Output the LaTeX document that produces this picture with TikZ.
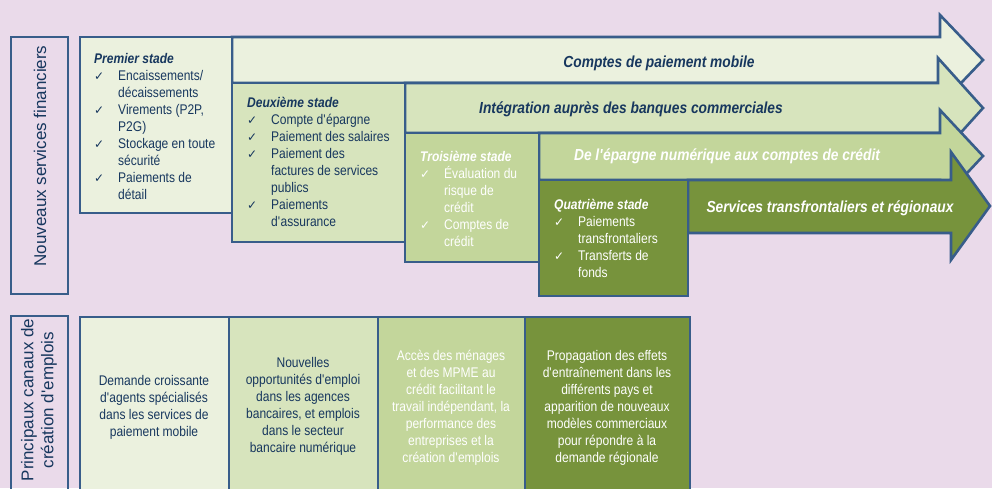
\documentclass[tikz,border=0pt]{standalone}
\usepackage{fontspec}
\setmainfont{Liberation Sans}[FakeStretch=0.86]
\newfontfamily\widefont{Liberation Sans}
\newfontfamily\symfont{DejaVu Sans}

\definecolor{bgpink}{HTML}{EADAEA}
\definecolor{edgeblue}{HTML}{385D8A}
\definecolor{navy}{HTML}{17375E}
\definecolor{gOne}{HTML}{EBF1DE}
\definecolor{gTwo}{HTML}{D7E4BD}
\definecolor{gThree}{HTML}{C3D69B}
\definecolor{gFour}{HTML}{77933C}

\newcommand{\chk}{\makebox[24pt][l]{\symfont\fontsize{12}{12}\selectfont ✓}}
\newcommand{\ind}{\hspace*{24pt}}
\newcommand{\tp}{\rule{0pt}{14pt}}
\newcommand{\ttl}[1]{\tp\textbf{\textit{#1}}}
\newcommand{\ap}{\textquotesingle}

\begin{document}
\begin{tikzpicture}
  [x=1pt,y=-1pt,
   box/.style={draw=edgeblue,line width=2.6pt},
   stagetext/.style={anchor=north west,align=left,inner sep=0pt,font=\fontsize{14}{17}\selectfont},
   arrowlabel/.style={anchor=base,inner sep=0pt,font=\fontsize{16}{19}\selectfont\bfseries\itshape},
   jobtext/.style={anchor=north,align=center,inner sep=0pt,font=\fontsize{14}{17}\selectfont},
   sidelabel/.style={rotate=90,align=center,inner sep=0pt,text=navy,font=\widefont\fontsize{17}{20}\selectfont}]
  \fill[bgpink] (0,0) rectangle (992,488);
  \clip (0,0) rectangle (992,488);

  % arrows of the four stades
\foreach \xl/\yt/\yb/\xh/\hu/\hd/\xt/\ty/\fc in
{232/37/83/940/15/105/983/60/gOne, 405/83/133/938/58/158/983/108/gTwo,
 539/133/180/940/110/202/983/156/gThree, 688/180/233/951/152/260/990/206/gFour}
    \draw[box,fill=\fc] (\xl,\yt) -- (\xh,\yt) -- (\xh,\hu) -- (\xt,\ty)
      -- (\xh,\hd) -- (\xh,\yb) -- (\xl,\yb) -- cycle;

  % stade boxes
  \draw[box,fill=gOne]   (80,37)   rectangle (232,213);
  \draw[box,fill=gTwo]   (232,83)  rectangle (405,242);
  \draw[box,fill=gThree] (405,133) rectangle (539,262);
  \draw[box,fill=gFour]  (539,180) rectangle (688,296);

  % emplois boxes
  \draw[box,fill=gOne]   (80,317)  rectangle (229,500);
  \draw[box,fill=gTwo]   (229,317) rectangle (378,500);
  \draw[box,fill=gThree] (378,317) rectangle (525,500);
  \draw[box,fill=gFour]  (525,317) rectangle (690,500);

  % side boxes
  \draw[box] (11,37)  rectangle (68,294);
  \draw[box] (11,316) rectangle (68,500);

  \node[sidelabel] (l1) at (40,156) {Nouveaux services financiers};
  \node[sidelabel] (l2) at (39,400) {Principaux canaux de\\création d\ap emplois};

  \node[stagetext,text=navy] (s1) at (94,49) {\ttl{Premier stade}\\
    \chk Encaissements/\\ \ind décaissements\\
    \chk Virements (P2P,\\ \ind P2G)\\
    \chk Stockage en toute\\ \ind sécurité\\
    \chk Paiements de\\ \ind détail};
  \node[stagetext,text=navy] (s2) at (247,93) {\ttl{Deuxième stade}\\
    \chk Compte d\ap épargne\\
    \chk Paiement des salaires\\
    \chk Paiement des\\ \ind factures de services\\ \ind publics\\
    \chk Paiements\\ \ind d\ap assurance};
  \node[stagetext,text=white] (s3) at (420,147) {\ttl{Troisième stade}\\
    \chk Évaluation du\\ \ind risque de\\ \ind crédit\\
    \chk Comptes de\\ \ind crédit};
  \node[stagetext,text=white] (s4) at (554,195) {\ttl{Quatrième stade}\\
    \chk Paiements\\ \ind transfrontaliers\\
    \chk Transferts de\\ \ind fonds};

  \node[arrowlabel,text=navy]  (a1) at (659,67)  {Comptes de paiement mobile};
  \node[arrowlabel,text=navy]  (a2) at (631,113) {Intégration auprès des banques commerciales};
  \node[arrowlabel,text=white] (a3) at (727,160) {De l\ap épargne numérique aux comptes de crédit};
  \node[arrowlabel,text=white] (a4) at (830,212) {Services transfrontaliers et régionaux};

  \node[jobtext,text=navy] (e1) at (154,371) {\tp Demande croissante\\d\ap agents spécialisés\\
    dans les services de\\paiement mobile};
  \node[jobtext,text=navy] (e2) at (303,353) {\tp Nouvelles\\opportunités d\ap emploi\\
    dans les agences\\bancaires, et emplois\\dans le secteur\\bancaire numérique};
  \node[jobtext,text=white] (e3) at (451,346) {\tp Accès des ménages\\et des MPME au\\
    crédit facilitant le\\travail indépendant, la\\performance des\\entreprises et la\\création d\ap emplois};
  \node[jobtext,text=white] (e4) at (607,346) {\tp Propagation des effets\\d\ap entraînement dans les\\
    différents pays et\\apparition de nouveaux\\modèles commerciaux\\pour répondre à la\\demande régionale};
\end{tikzpicture}
\end{document}
